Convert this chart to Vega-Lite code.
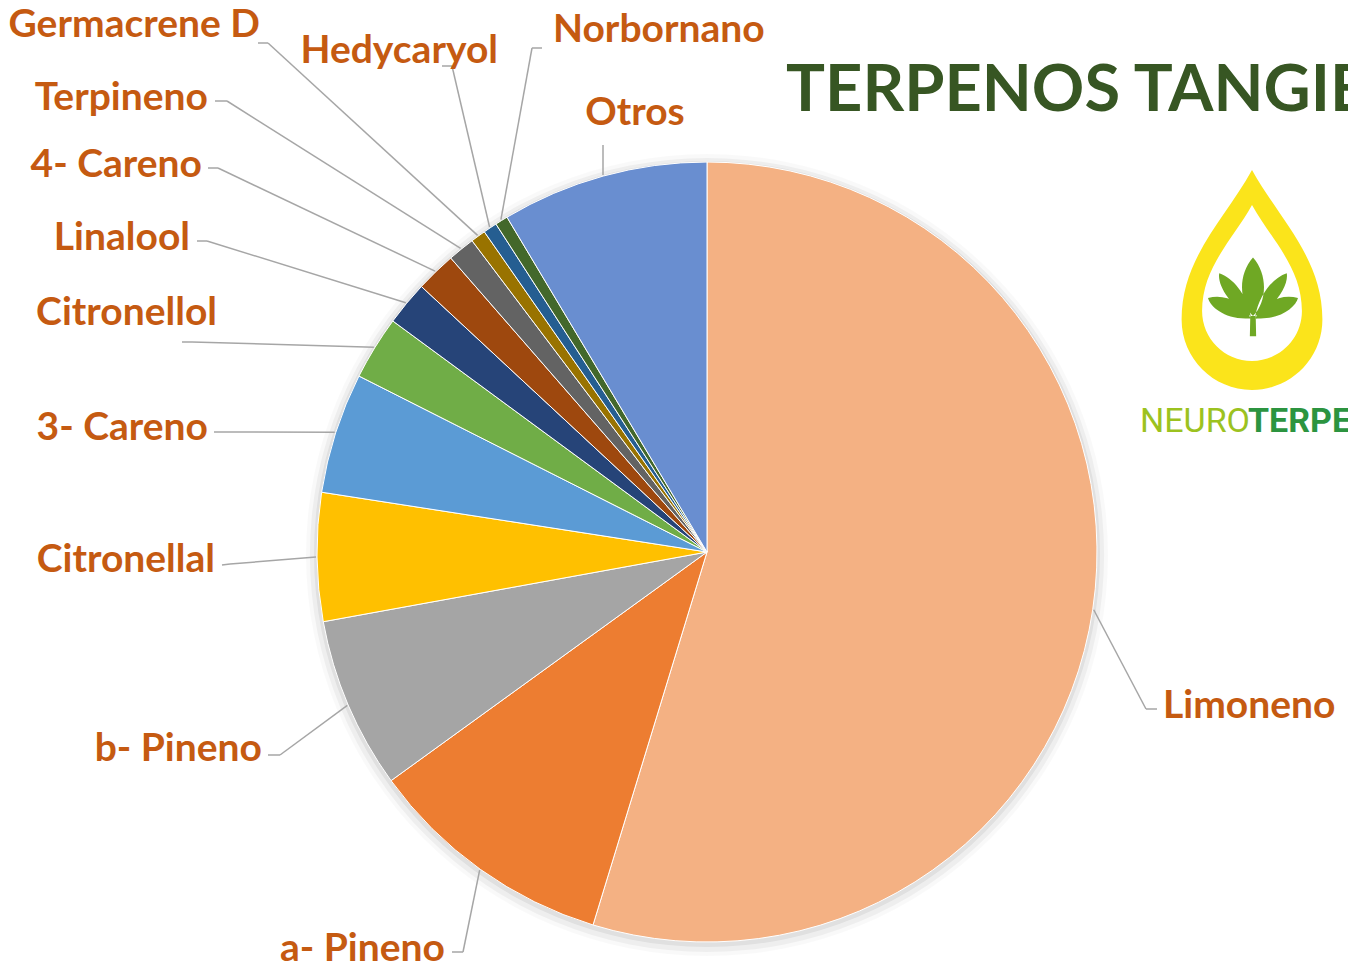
{
  "$schema": "https://vega.github.io/schema/vega-lite/v6.json",
  "width": 1282,
  "height": 830,
  "autosize": {"type": "none"},
  "padding": {"left": 66, "top": 137, "right": 0, "bottom": 0},
  "background": "#ffffff",
  "config": {"view": {"stroke": null}},
  "title": {
    "text": "TERPENOS TANGIE",
    "anchor": "start",
    "frame": "group",
    "dx": 720,
    "offset": 0,
    "dy": 170,
    "baseline": "alphabetic",
    "font": "Lato",
    "fontSize": 65,
    "fontWeight": "bold",
    "color": "#375623"
  },
  "data": {
    "values": [
      {"name": "Limoneno", "value": 54.72},
      {"name": "a- Pineno", "value": 10.31},
      {"name": "b- Pineno", "value": 7.11},
      {"name": "Citronellal", "value": 5.31},
      {"name": "3- Careno", "value": 5.0},
      {"name": "Citronellol", "value": 2.64},
      {"name": "Linalool", "value": 1.83},
      {"name": "4- Careno", "value": 1.67},
      {"name": "Terpineno", "value": 1.12},
      {"name": "Germacrene D", "value": 0.62},
      {"name": "Hedycaryol", "value": 0.57},
      {"name": "Norbornano", "value": 0.53},
      {"name": "Otros", "value": 8.57}
    ]
  },
  "transform": [
    {"window": [{"op": "row_number", "as": "idx"}]},
    {"stack": "value", "groupby": [], "sort": [{"field": "idx", "order": "ascending"}], "as": ["v0", "v1"]},
    {"joinaggregate": [{"op": "sum", "field": "value", "as": "total"}]},
    {"calculate": "PI * (datum.v0 + datum.v1) / datum.total", "as": "mid"},
    {"calculate": "391 * sin(datum.mid)", "as": "ex"},
    {"calculate": "-391 * cos(datum.mid)", "as": "ey"},
    {"calculate": "({'Limoneno':[456,166,439,157,450,157],'a- Pineno':[-262,409,-244,400,-255,400],'b- Pineno':[-445,209,-427,203,-439,203],'Citronellal':[-492,20,-477,12,-485,13],'3- Careno':[-499,-112,-483,-120,-493,-120],'Citronellol':[-490,-227,-515,-210,-525,-210],'Linalool':[-517,-302,-500,-311,-510,-311],'4- Careno':[-505,-375,-489,-384,-499,-384],'Terpineno':[-499,-442,-480,-451,-492,-451],'Germacrene D':[-447,-515,-439,-509,-449,-509],'Hedycaryol':[-209,-489,-255,-486,-265,-486],'Norbornano':[-154,-510,-175,-504,-165,-504],'Otros':[-72,-427,-104,-407,-104,-407]})[datum.name]", "as": "L"},
    {"calculate": "datum.L[0]", "as": "lx"},
    {"calculate": "datum.L[1]", "as": "ly"},
    {"calculate": "datum.L[2]", "as": "x1"},
    {"calculate": "datum.L[3]", "as": "y1"},
    {"calculate": "datum.L[4]", "as": "x2"},
    {"calculate": "datum.L[5]", "as": "y2"}
  ],
  "layer": [
    {
      "transform": [{"aggregate": [{"op": "sum", "field": "value", "as": "t"}]}],
      "mark": {"type": "arc", "radius": 401, "color": "#000000", "opacity": 0.025, "yOffset": 3},
      "encoding": {"theta": {"field": "t", "type": "quantitative"}}
    },
    {
      "transform": [{"aggregate": [{"op": "sum", "field": "value", "as": "t"}]}],
      "mark": {"type": "arc", "radius": 397, "color": "#000000", "opacity": 0.045, "yOffset": 3},
      "encoding": {"theta": {"field": "t", "type": "quantitative"}}
    },
    {
      "transform": [{"aggregate": [{"op": "sum", "field": "value", "as": "t"}]}],
      "mark": {"type": "arc", "radius": 393, "color": "#000000", "opacity": 0.06, "yOffset": 2},
      "encoding": {"theta": {"field": "t", "type": "quantitative"}}
    },
    {
      "mark": {"type": "arc", "radius": 390, "stroke": "#ffffff", "strokeWidth": 1},
      "encoding": {
        "theta": {"field": "value", "type": "quantitative", "stack": true},
        "order": {"field": "idx", "type": "quantitative"},
        "color": {
          "field": "name",
          "type": "nominal",
          "legend": null,
          "scale": {
            "domain": ["Limoneno", "a- Pineno", "b- Pineno", "Citronellal", "3- Careno", "Citronellol", "Linalool", "4- Careno", "Terpineno", "Germacrene D", "Hedycaryol", "Norbornano", "Otros"],
            "range": ["#F4B183", "#ED7D31", "#A5A5A5", "#FFC000", "#5B9BD5", "#70AD47", "#264478", "#9E480E", "#636363", "#997300", "#255E91", "#43682B", "#698ED0"]
          }
        }
      }
    },
    {
      "mark": {"type": "rule", "color": "#A6A6A6", "strokeWidth": 1.5},
      "encoding": {
        "x": {"field": "ex", "type": "quantitative", "scale": {"domain": [-641, 641], "nice": false, "zero": false}, "axis": null},
        "y": {"field": "ey", "type": "quantitative", "scale": {"domain": [-415, 415], "nice": false, "zero": false, "reverse": true}, "axis": null},
        "x2": {"field": "x1"},
        "y2": {"field": "y1"}
      }
    },
    {
      "mark": {"type": "rule", "color": "#A6A6A6", "strokeWidth": 1.5},
      "encoding": {
        "x": {"field": "x1", "type": "quantitative", "scale": {"domain": [-641, 641], "nice": false, "zero": false}, "axis": null},
        "y": {"field": "y1", "type": "quantitative", "scale": {"domain": [-415, 415], "nice": false, "zero": false, "reverse": true}, "axis": null},
        "x2": {"field": "x2"},
        "y2": {"field": "y2"}
      }
    },
    {
      "transform": [{"filter": "indexof(['Limoneno','Norbornano','Otros'], datum.name) < 0"}],
      "mark": {"type": "text", "align": "right", "baseline": "alphabetic", "font": "Lato", "fontWeight": "bold", "fontSize": 39, "color": "#C55A11"},
      "encoding": {
        "x": {"field": "lx", "type": "quantitative", "scale": {"domain": [-641, 641], "nice": false, "zero": false}, "axis": null},
        "y": {"field": "ly", "type": "quantitative", "scale": {"domain": [-415, 415], "nice": false, "zero": false, "reverse": true}, "axis": null},
        "text": {"field": "name"}
      }
    },
    {
      "transform": [{"filter": "indexof(['Limoneno','Norbornano'], datum.name) >= 0"}],
      "mark": {"type": "text", "align": "left", "baseline": "alphabetic", "font": "Lato", "fontWeight": "bold", "fontSize": 39, "color": "#C55A11"},
      "encoding": {
        "x": {"field": "lx", "type": "quantitative", "scale": {"domain": [-641, 641], "nice": false, "zero": false}, "axis": null},
        "y": {"field": "ly", "type": "quantitative", "scale": {"domain": [-415, 415], "nice": false, "zero": false, "reverse": true}, "axis": null},
        "text": {"field": "name"}
      }
    },
    {
      "transform": [{"filter": "datum.name == 'Otros'"}],
      "mark": {"type": "text", "align": "center", "baseline": "alphabetic", "font": "Lato", "fontWeight": "bold", "fontSize": 39, "color": "#C55A11"},
      "encoding": {
        "x": {"field": "lx", "type": "quantitative", "scale": {"domain": [-641, 641], "nice": false, "zero": false}, "axis": null},
        "y": {"field": "ly", "type": "quantitative", "scale": {"domain": [-415, 415], "nice": false, "zero": false, "reverse": true}, "axis": null},
        "text": {"field": "name"}
      }
    },
    {
      "data": {"values": [{"part": "NEURO", "tone": "a"}, {"part": "TERPEN", "tone": "b"}]},
      "layer": [
        {
          "transform": [{"filter": "datum.tone == 'a'"}],
          "mark": {"type": "point", "shape": "M0,-1C0.25,-0.55,0.64,-0.2,0.64,0.36A0.64,0.64,0,1,1,-0.64,0.36C-0.64,-0.2,-0.25,-0.55,0,-1Z", "filled": true, "color": "#FBE41B", "opacity": 1, "size": 48400, "strokeWidth": 0},
          "encoding": {
            "x": {"datum": 545, "type": "quantitative", "scale": {"domain": [-641, 641], "nice": false, "zero": false}, "axis": null},
            "y": {"datum": -272, "type": "quantitative", "scale": {"domain": [-415, 415], "nice": false, "zero": false, "reverse": true}, "axis": null}
          }
        },
        {
          "transform": [{"filter": "datum.tone == 'a'"}],
          "mark": {"type": "point", "shape": "M0,-1C0.25,-0.55,0.64,-0.2,0.64,0.36A0.64,0.64,0,1,1,-0.64,0.36C-0.64,-0.2,-0.25,-0.55,0,-1Z", "filled": true, "color": "#ffffff", "opacity": 1, "size": 24336, "strokeWidth": 0},
          "encoding": {
            "x": {"datum": 545, "type": "quantitative", "scale": {"domain": [-641, 641], "nice": false, "zero": false}, "axis": null},
            "y": {"datum": -269, "type": "quantitative", "scale": {"domain": [-415, 415], "nice": false, "zero": false, "reverse": true}, "axis": null}
          }
        },
        {
          "transform": [{"filter": "datum.tone == 'a'"}],
          "mark": {"type": "point", "shape": "M0,-0.9C0.35,-0.5,0.3,0.1,0,0.4C-0.3,0.1,-0.35,-0.5,0,-0.9ZM-0.05,0.4C-0.5,0.2,-0.8,-0.3,-0.75,-0.55C-0.45,-0.45,-0.15,-0.1,-0.05,0.4ZM0.05,0.4C0.5,0.2,0.8,-0.3,0.75,-0.55C0.45,-0.45,0.15,-0.1,0.05,0.4ZM-0.05,0.45C-0.6,0.5,-0.95,0.2,-1,0C-0.6,-0.1,-0.25,0.1,-0.05,0.45ZM0.05,0.45C0.6,0.5,0.95,0.2,1,0C0.6,-0.1,0.25,0.1,0.05,0.45ZM-0.06,0.4L0.06,0.4L0.07,0.85L-0.07,0.85Z", "filled": true, "color": "#6FA824", "opacity": 1, "size": 8100, "strokeWidth": 0},
          "encoding": {
            "x": {"datum": 546, "type": "quantitative", "scale": {"domain": [-641, 641], "nice": false, "zero": false}, "axis": null},
            "y": {"datum": -254, "type": "quantitative", "scale": {"domain": [-415, 415], "nice": false, "zero": false, "reverse": true}, "axis": null}
          }
        },
        {
          "transform": [{"filter": "datum.tone == 'a'"}],
          "mark": {"type": "text", "align": "left", "baseline": "alphabetic", "font": "Roboto", "fontSize": 34, "color": "#9CC21F"},
          "encoding": {
            "x": {"datum": 433, "type": "quantitative", "scale": {"domain": [-641, 641], "nice": false, "zero": false}, "axis": null},
            "y": {"datum": -120, "type": "quantitative", "scale": {"domain": [-415, 415], "nice": false, "zero": false, "reverse": true}, "axis": null},
            "text": {"field": "part"}
          }
        },
        {
          "transform": [{"filter": "datum.tone == 'b'"}],
          "mark": {"type": "text", "align": "left", "baseline": "alphabetic", "font": "Roboto", "fontWeight": "bold", "fontSize": 34, "color": "#2C9440"},
          "encoding": {
            "x": {"datum": 541, "type": "quantitative", "scale": {"domain": [-641, 641], "nice": false, "zero": false}, "axis": null},
            "y": {"datum": -120, "type": "quantitative", "scale": {"domain": [-415, 415], "nice": false, "zero": false, "reverse": true}, "axis": null},
            "text": {"field": "part"}
          }
        }
      ]
    }
  ]
}
